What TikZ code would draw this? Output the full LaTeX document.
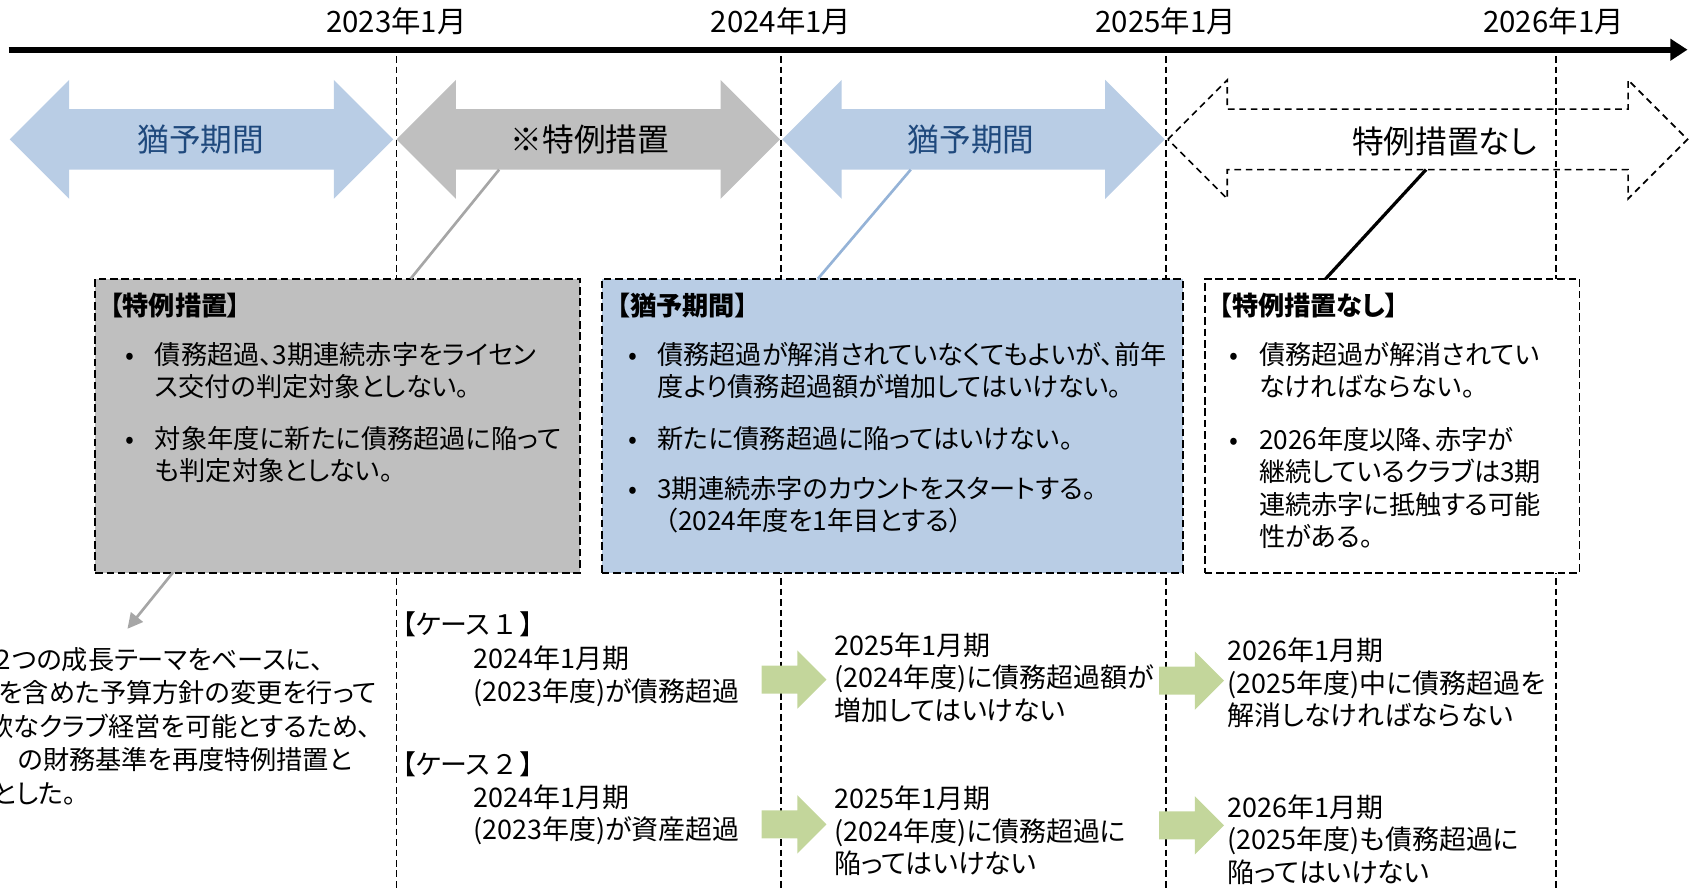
\documentclass[tikz,border=0pt]{standalone}
\usepackage{fontspec}
\setmainfont{Noto Sans CJK JP}[RawFeature=+palt]
\usetikzlibrary{arrows.meta,calc}
\definecolor{ykblue}{HTML}{B9CDE5}
\definecolor{ykline}{HTML}{95B3D7}
\definecolor{yktext}{HTML}{1F497D}
\definecolor{spgray}{HTML}{BFBFBF}
\definecolor{spline}{HTML}{A6A6A6}
\definecolor{nextgreen}{HTML}{C3D69B}
\newcommand\bodyfont{\fontsize{13.8pt}{17.07pt}\selectfont}
\newcommand\casefont{\fontsize{14.2pt}{17.07pt}\selectfont}
\newcommand\memofont{\fontsize{13.8pt}{17.6pt}\selectfont}
\newcommand\bl{\makebox[15.4pt][l]{•}}
\newcommand\ind{\hspace*{15.4pt}}
\def\dblarrow[#1](#2:#3){\path[#1] (#2,129) -- (#2+55,74) -- (#2+55,101) -- (#3-55,101) -- (#3-55,74) -- (#3,129) -- (#3-55,184) -- (#3-55,157) -- (#2+55,157) -- (#2+55,184) -- cycle;}
\def\nextarrow(#1,#2){\fill[nextgreen] (#1,#2-13) -- (#1+33,#2-13) -- (#1+33,#2-27) -- (#1+60,#2) -- (#1+33,#2+27) -- (#1+33,#2+13) -- (#1,#2+13) -- cycle;}

\begin{document}
\begin{tikzpicture}[x=0.02cm, y=-0.02cm,
	yearline/.style={line width=0.9pt, dash pattern=on 3.5pt off 2pt},
	infobox/.style={draw, line width=1pt, dash pattern=on 4pt off 2pt, minimum height=5.44cm, inner sep=0pt, outer sep=0pt},
	bodytext/.style={anchor=west, align=left, inner sep=0pt, font=\bodyfont},
	casetext/.style={anchor=west, align=left, inner sep=0pt, font=\casefont},
	boxtitle/.style={anchor=west, inner sep=0pt, font=\bodyfont\bfseries},
	yearlabel/.style={inner sep=0pt, font=\fontsize{15.5pt}{18pt}\selectfont},
	periodlabel/.style={inner sep=0pt, font=\fontsize{16.7pt}{20pt}\selectfont}]
		%%%%% START %%%%%
		\useasboundingbox (0,0) rectangle (1568,823);
		\clip (0,0) rectangle (1568,823);
		
		% time axis
		\draw[line width=3.2pt, -{Triangle[length=9pt,width=11pt]}] (8,46) -- (1562,46);
		\node[yearlabel] (y2023) at (367,20) {2023年1月};
		\node[yearlabel] (y2024) at (723,20) {2024年1月};
		\node[yearlabel] (y2025) at (1079,20) {2025年1月};
		\node[yearlabel] (y2026) at (1438,20) {2026年1月};
		
		\draw[yearline] (367,52) -- (367,823);
		\draw[yearline] (723,52) -- (723,823);
		\draw[yearline] (1079,52) -- (1079,823);
		\draw[yearline] (1440,52) -- (1440,823);
		
		% periods
		\dblarrow[fill=ykblue](9:364)
		\dblarrow[fill=spgray](367:722)
		\dblarrow[fill=ykblue](724:1078)
		\dblarrow[draw, line width=0.9pt, dash pattern=on 3.5pt off 2.5pt](1081:1562)
		
		\node[periodlabel, text=yktext] (grace1) at (186,129) {猶予期間};
		\node[periodlabel] (special) at (546,129) {※特例措置};
		\node[periodlabel, text=yktext] (grace2) at (899,129) {猶予期間};
		\node[periodlabel] (none) at (1337,131) {特例措置なし};
		
		\coordinate (specialfoot) at (462,157);
		\coordinate (gracefoot) at (843,157);
		\coordinate (nonefoot) at (1320,157);
		
		% boxes
		\node[infobox, fill=spgray, minimum width=8.98cm] (specialbox) at (312.5,394) {};
		\node[infobox, fill=ykblue, minimum width=10.76cm] (gracebox) at (826,394) {};
		\node[infobox, fill=white, minimum width=6.94cm] (nonebox) at (1288.5,394) {};
		
		\draw[spline, line width=1.4pt] (specialfoot) -- ($(specialbox.north west)+(292,0)$);
		\draw[ykline, line width=1.4pt] (gracefoot) -- ($(gracebox.north west)+(200,0)$);
		\draw[line width=1.7pt] (nonefoot) -- ($(nonebox.north west)+(112,0)$);
		
		\node[boxtitle] (specialtitle) at (101,283) {【特例措置】};
		\node[bodytext] (special1) at (116,343) {\bl 債務超過、3期連続赤字をライセン\\\ind ス交付の判定対象としない。};
		\node[bodytext] (special2) at (116,421) {\bl 対象年度に新たに債務超過に陥って\\\ind も判定対象としない。};
		
		\node[boxtitle] (gracetitle) at (571,283) {【猶予期間】};
		\node[bodytext] (grace1a) at (581,343) {\bl 債務超過が解消されていなくてもよいが、前年\\\ind 度より債務超過額が増加してはいけない。};
		\node[bodytext] (grace2a) at (581,406) {\bl 新たに債務超過に陥ってはいけない。};
		\node[bodytext] (grace3a) at (581,467) {\bl 3期連続赤字のカウントをスタートする。\\\ind\hspace{4pt}（2024年度を1年目とする）};
		
		\node[boxtitle] (nonetitle) at (1128,283) {【特例措置なし】};
		\node[bodytext] (none1) at (1138,343) {\bl 債務超過が解消されてい\\\ind なければならない。};
		\node[bodytext] (none2) at (1138,451.5) {\bl 2026年度以降、赤字が\\\ind 継続しているクラブは3期\\\ind 連続赤字に抵触する可能\\\ind 性がある。};
		
		% note below the special box
		\coordinate (memotip) at (118,582);
		\draw[spline, line width=1.4pt, -{Triangle[length=8pt,width=8pt]}] ($(specialbox.south west)+(72,0)$) -- (memotip);
		\node[bodytext, font=\memofont] (memo) at (-12,672) {\hspace*{2.5pt}２つの成長テーマをベースに、\\\hspace*{6pt}を含めた予算方針の変更を行って\\軟なクラブ経営を可能とするため、\\\hspace*{16pt}の財務基準を再度特例措置と\\\hspace*{3pt}とした。};
		
		% cases
		\node[casetext] (case1) at (372,578) {【ケース\,１\,】};
		\node[casetext] (case1a) at (438,626) {2024年1月期\\(2023年度)が債務超過};
		\node[casetext] (case1b) at (772,627) {2025年1月期\\(2024年度)に債務超過額が\\増加してはいけない};
		\node[casetext] (case1c) at (1136,632) {2026年1月期\\(2025年度)中に債務超過を\\解消しなければならない};
		
		\node[casetext] (case2) at (372,707) {【ケース\,２\,】};
		\node[casetext] (case2a) at (438,754) {2024年1月期\\(2023年度)が資産超過};
		\node[casetext] (case2b) at (772,769) {2025年1月期\\(2024年度)に債務超過に\\陥ってはいけない};
		\node[casetext] (case2c) at (1136,777) {2026年1月期\\(2025年度)も債務超過に\\陥ってはいけない};
		
		\nextarrow(705,629)
		\nextarrow(1073,630)
		\nextarrow(705,763)
		\nextarrow(1073,764)
		%%%%% END %%%%%
\end{tikzpicture}
\end{document}
